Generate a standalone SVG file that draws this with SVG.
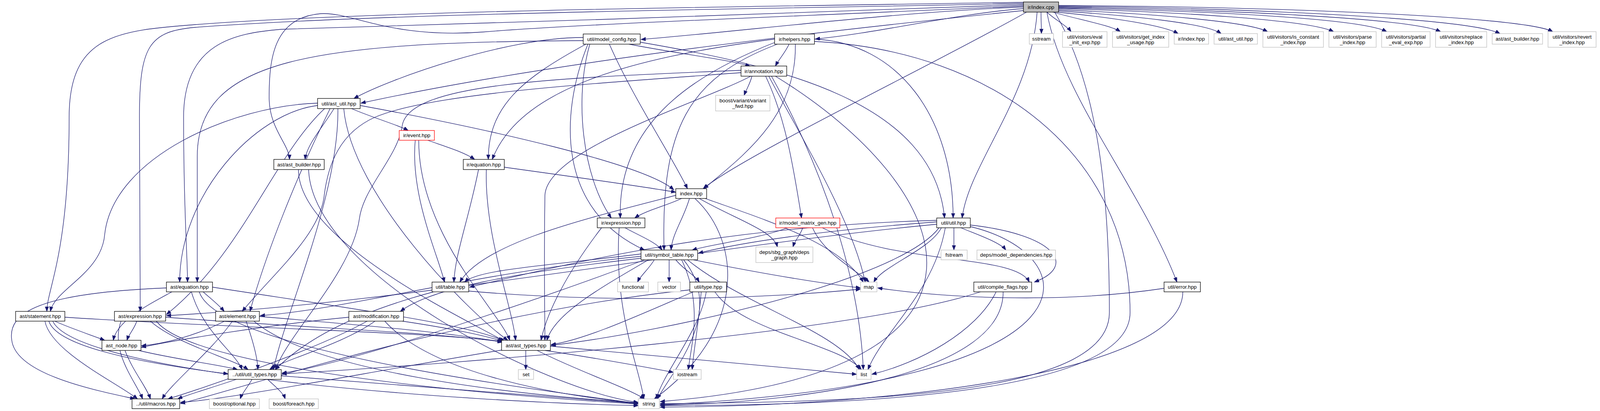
<svg xmlns="http://www.w3.org/2000/svg" width="4191" height="1052" viewBox="0 0 4191 1052">
<defs>
<style>
.n rect{fill:#ffffff;stroke:#000000;stroke-width:1.3}
.g rect{stroke:#bfbfbf}
.r rect{stroke:#ff0000}
.root rect{fill:#bfbfbf}
text{font-family:"Liberation Sans",Arial,Helvetica,sans-serif;font-size:13.3px;text-anchor:middle;fill:#000000}
#edges path{fill:none;stroke:#191970;stroke-width:1.3;marker-end:url(#a)}
</style>
<marker id="a" markerUnits="userSpaceOnUse" markerWidth="13" markerHeight="10" refX="12" refY="4.5" orient="auto" viewBox="0 0 13 10"><path d="M0,0 L12,4.5 L0,9 Z" fill="#191970" stroke="#191970" stroke-width="1"/></marker>
</defs>
<rect x="0" y="0" width="4191" height="1052" fill="#ffffff"/>
<g id="edges">
<path d="M2665,31 C2665,50 2666,70 2666,86"/>
<path d="M2680,31 C2700,50 2730,65 2742,81"/>
<path d="M2695,31 C2760,50 2845,65 2868,81"/>
<path d="M2705,31 C2850,45 2980,65 3016,86"/>
<path d="M2710,28 C2900,40 3090,60 3126,86"/>
<path d="M2710,25 C2950,35 3195,55 3245,81"/>
<path d="M2710,22 C3000,30 3350,50 3414,81"/>
<path d="M2710,20 C3050,27 3480,45 3550,81"/>
<path d="M2710,18 C3100,24 3610,45 3688,81"/>
<path d="M2710,16 C3150,20 3760,45 3840,86"/>
<path d="M2710,14 C3200,16 3900,40 3975,81"/>
<path d="M2620,18 C2300,30 1900,80 1641,101"/>
<path d="M2620,22 C2450,35 2250,84 2087,100"/>
<path d="M2620,27 C2200,70 1450,150 924,264"/>
<path d="M2628,31 C2400,160 1900,400 1800,483"/>
<path d="M2655,31 C2640,250 2480,420 2463,558"/>
<path d="M2680,31 C2720,250 2920,480 3013,722"/>
<path d="M2620,15 C2100,40 1500,60 1235,82 C1000,100 900,30 821,35 C700,45 689,150 689,250 C689,330 741,370 741,408"/>
<path d="M2620,12 C2100,30 1300,60 720,75 C600,85 470,110 470,300 C470,550 480,650 480,722"/>
<path d="M2620,6 C2000,16 1000,25 500,63 C300,78 177,90 177,300 C177,650 120,740 120,797"/>
<path d="M2620,9 C2000,22 1000,32 500,70 C380,80 357,120 357,300 C357,650 359,740 359,797"/>
<path d="M2700,31 C2800,200 2840,450 2840,800 C2840,1000 2300,1030 1690,1033"/>
<path d="M1493,104 C800,108 505,150 505,400 C505,600 505,680 505,722"/>
<path d="M1493,96 C1300,95 1000,200 906,252"/>
<path d="M1500,113 C1340,200 1250,270 1250,408"/>
<path d="M1510,113 C1470,250 1490,450 1565,558"/>
<path d="M1505,113 C1430,300 1430,540 1650,640"/>
<path d="M1560,113 C1620,250 1720,400 1760,483"/>
<path d="M1610,113 C1750,140 1850,150 1920,169"/>
<path d="M1639,108 C2000,170 2390,260 2418,558"/>
<path d="M1983,100 C1600,150 1330,230 1260,408"/>
<path d="M1985,108 C1750,200 1581,330 1588,558"/>
<path d="M1990,113 C1760,200 1692,330 1700,640"/>
<path d="M2020,113 C2010,135 1995,150 1985,169"/>
<path d="M2036,113 C2040,300 1900,400 1802,483"/>
<path d="M2085,100 C2300,110 2440,300 2440,558"/>
<path d="M2085,106 C2550,130 2893,400 2893,800 C2893,1000 2250,1038 1690,1038"/>
<path d="M1897,180 C1400,200 1050,215 1030,320 C1020,400 930,480 920,560 C900,700 740,850 705,946"/>
<path d="M1897,186 C1500,215 1100,240 960,300 C870,340 840,420 830,500 C820,600 700,700 620,797"/>
<path d="M1925,195 C1920,215 1910,230 1905,244"/>
<path d="M1922,195 C1800,260 1400,380 1395,500 C1392,700 1395,800 1395,871"/>
<path d="M1960,195 C2010,300 2030,420 2052,558"/>
<path d="M1968,195 C2050,350 2180,560 2215,722"/>
<path d="M1975,195 C2100,420 2200,700 2210,946"/>
<path d="M1985,195 C2450,480 2650,950 1690,1028"/>
<path d="M813,264 C600,270 290,400 268,600 C260,700 140,740 129,797"/>
<path d="M813,270 C650,290 460,500 460,722"/>
<path d="M831,278 C700,400 620,650 426,805"/>
<path d="M845,278 C760,450 680,650 640,797"/>
<path d="M855,278 C830,320 785,370 781,408"/>
<path d="M865,278 C868,500 730,800 700,946"/>
<path d="M880,278 C900,500 1200,800 1300,871"/>
<path d="M900,278 C950,300 1020,320 1045,334"/>
<path d="M922,270 C1250,330 1650,420 1725,486"/>
<path d="M1095,359 C1140,375 1190,390 1215,408"/>
<path d="M1063,359 C1050,500 1120,650 1138,722"/>
<path d="M1072,359 C1071,600 1280,800 1305,871"/>
<path d="M1291,428 C1450,450 1650,478 1730,492"/>
<path d="M1225,434 C1200,560 1165,650 1162,722"/>
<path d="M1245,434 C1240,600 1310,780 1320,871"/>
<path d="M764,434 C764,620 1200,820 1292,874"/>
<path d="M790,434 C800,700 1400,1000 1634,1030"/>
<path d="M1745,508 C1710,525 1650,540 1625,558"/>
<path d="M1765,508 C1750,560 1720,600 1718,640"/>
<path d="M1730,500 C1500,560 1240,620 1177,722"/>
<path d="M1790,508 C1880,560 1980,590 1990,632"/>
<path d="M1805,508 C1950,560 2150,620 2210,722"/>
<path d="M1779,508 C1900,620 1910,850 1675,1021"/>
<path d="M1600,583 C1630,600 1680,620 1695,640"/>
<path d="M1540,583 C1450,700 1400,800 1385,871"/>
<path d="M1585,583 C1570,800 1640,950 1648,1021"/>
<path d="M2015,583 C1950,610 1820,625 1772,640"/>
<path d="M2055,583 C2050,600 2035,615 2030,632"/>
<path d="M2080,583 C2110,650 2190,690 2225,722"/>
<path d="M2105,583 C2300,680 2600,650 2635,722"/>
<path d="M2398,568 C2100,590 1900,620 1788,648"/>
<path d="M2398,564 C1800,580 1400,690 1202,735"/>
<path d="M2398,574 C1800,630 1100,770 426,808"/>
<path d="M2442,583 C2442,600 2442,620 2442,640"/>
<path d="M2460,583 C2500,600 2560,620 2575,640"/>
<path d="M2410,583 C2380,640 2260,680 2237,722"/>
<path d="M2420,583 C2390,750 2260,850 2222,946"/>
<path d="M2484,576 C2700,600 2760,680 2648,722"/>
<path d="M2404,583 C2300,720 1700,850 1411,884"/>
<path d="M2484,580 C2780,650 2860,980 1690,1036"/>
<path d="M1675,665 C1660,690 1640,705 1632,722"/>
<path d="M1713,665 C1713,690 1713,705 1713,722"/>
<path d="M1730,665 C1750,690 1780,705 1790,722"/>
<path d="M1641,650 C1400,680 1220,690 1190,722"/>
<path d="M1641,656 C1200,700 900,790 666,808"/>
<path d="M1641,661 C1300,700 1100,740 1025,797"/>
<path d="M1775,665 C1950,700 2100,725 2203,737"/>
<path d="M1760,665 C1900,780 2150,850 2200,946"/>
<path d="M1745,665 C1800,780 1770,880 1762,946"/>
<path d="M1750,665 C1860,800 1720,950 1683,1021"/>
<path d="M1660,665 C1550,730 1420,800 1400,871"/>
<path d="M1650,665 C1400,760 900,930 722,955"/>
<path d="M1766,742 C1200,800 600,1000 462,1033"/>
<path d="M1775,747 C1650,800 1500,870 1411,882"/>
<path d="M1795,747 C1790,820 1775,900 1772,946"/>
<path d="M1808,747 C1790,850 1700,950 1680,1021"/>
<path d="M1830,747 C1900,850 2150,880 2205,946"/>
<path d="M1200,745 C1600,780 2000,760 2203,740"/>
<path d="M1110,747 C950,790 800,850 705,946"/>
<path d="M520,747 C540,765 560,780 574,797"/>
<path d="M544,735 C900,790 1200,830 1288,872"/>
<path d="M440,747 C380,780 300,820 290,871"/>
<path d="M426,737 C100,750 20,800 30,870 C40,960 250,1000 345,1021"/>
<path d="M490,747 C520,850 600,900 620,946"/>
<path d="M510,747 C560,900 1400,1000 1634,1033"/>
<path d="M140,822 C180,840 240,860 268,871"/>
<path d="M166,812 C600,840 1100,850 1285,874"/>
<path d="M115,822 C130,900 300,980 352,1021"/>
<path d="M125,822 C150,900 450,940 584,957"/>
<path d="M135,822 C200,960 1200,1030 1634,1038"/>
<path d="M350,822 C345,840 330,855 325,871"/>
<path d="M424,812 C800,840 1100,850 1286,875"/>
<path d="M310,822 C280,900 350,980 365,1021"/>
<path d="M385,822 C450,880 600,920 635,946"/>
<path d="M400,822 C500,950 1300,1015 1634,1034"/>
<path d="M575,822 C500,860 420,880 362,885"/>
<path d="M664,810 C900,830 1150,850 1287,876"/>
<path d="M595,822 C540,900 440,980 415,1021"/>
<path d="M630,822 C650,880 660,920 660,946"/>
<path d="M650,822 C800,950 1300,1010 1634,1031"/>
<path d="M893,812 C700,830 450,870 362,889"/>
<path d="M1030,822 C1150,840 1250,860 1289,875"/>
<path d="M940,822 C800,900 500,1000 430,1021"/>
<path d="M960,822 C880,880 730,920 690,946"/>
<path d="M985,822 C1100,950 1400,1010 1634,1032"/>
<path d="M355,897 C450,920 570,935 608,946"/>
<path d="M320,897 C340,950 375,990 385,1021"/>
<path d="M1346,897 C1346,915 1346,930 1346,946"/>
<path d="M1395,897 C1550,920 1680,945 1724,953"/>
<path d="M1409,886 C1800,920 2100,950 2193,958"/>
<path d="M1375,897 C1480,950 1600,990 1650,1021"/>
<path d="M1290,895 C900,960 600,1020 462,1030"/>
<path d="M605,971 C550,990 480,1010 455,1021"/>
<path d="M645,971 C635,990 620,1005 615,1021"/>
<path d="M685,971 C705,990 725,1005 730,1021"/>
<path d="M720,962 C1100,990 1450,1020 1634,1033"/>
<path d="M2510,747 C2200,850 1200,930 722,957"/>
<path d="M2550,747 C2500,850 2350,930 2232,958"/>
<path d="M2568,747 C2570,950 2100,1030 1690,1037"/>
<path d="M2980,738 C2700,780 2400,760 2247,737"/>
<path d="M3028,747 C3028,950 2300,1040 1690,1042"/>
</g>
<g id="n_index_cpp" class="n root"><rect x="2620" y="5" width="90" height="26"/><text x="2665" y="22.5">ir/index.cpp</text></g>
<g id="n_sstream" class="n g"><rect x="2635" y="86" width="62" height="27"/><text x="2666" y="104">sstream</text></g>
<g id="n_eval_init_exp" class="n g"><rect x="2720" y="81" width="114" height="40"/><text x="2777" y="98.5">util/visitors/eval</text><text x="2777" y="112.5">_init_exp.hpp</text></g>
<g id="n_get_index_usage" class="n g"><rect x="2848" y="81" width="144" height="40"/><text x="2920" y="98.5">util/visitors/get_index</text><text x="2920" y="112.5">_usage.hpp</text></g>
<g id="n_ir_index_hpp_g" class="n g"><rect x="3006" y="86" width="88" height="27"/><text x="3050" y="104">ir/index.hpp</text></g>
<g id="n_ast_util_g" class="n g"><rect x="3108" y="86" width="111" height="27"/><text x="3163.5" y="104">util/ast_util.hpp</text></g>
<g id="n_is_constant_index" class="n g"><rect x="3233" y="81" width="155" height="40"/><text x="3310.5" y="98.5">util/visitors/is_constant</text><text x="3310.5" y="112.5">_index.hpp</text></g>
<g id="n_parse_index" class="n g"><rect x="3402" y="81" width="121" height="40"/><text x="3462.5" y="98.5">util/visitors/parse</text><text x="3462.5" y="112.5">_index.hpp</text></g>
<g id="n_partial_eval_exp" class="n g"><rect x="3537" y="81" width="124" height="40"/><text x="3599" y="98.5">util/visitors/partial</text><text x="3599" y="112.5">_eval_exp.hpp</text></g>
<g id="n_replace_index" class="n g"><rect x="3675" y="81" width="131" height="40"/><text x="3740.5" y="98.5">util/visitors/replace</text><text x="3740.5" y="112.5">_index.hpp</text></g>
<g id="n_ast_builder_g" class="n g"><rect x="3820" y="86" width="129" height="27"/><text x="3884.5" y="104">ast/ast_builder.hpp</text></g>
<g id="n_revert_index" class="n g"><rect x="3963" y="81" width="123" height="40"/><text x="4024.5" y="98.5">util/visitors/revert</text><text x="4024.5" y="112.5">_index.hpp</text></g>
<g id="n_model_config" class="n"><rect x="1493" y="87" width="146" height="26"/><text x="1566" y="104.5">util/model_config.hpp</text></g>
<g id="n_helpers" class="n"><rect x="1983" y="87" width="102" height="26"/><text x="2034" y="104.5">ir/helpers.hpp</text></g>
<g id="n_annotation" class="n"><rect x="1897" y="169" width="117" height="26"/><text x="1955.5" y="186.5">ir/annotation.hpp</text></g>
<g id="n_ast_util" class="n"><rect x="813" y="252" width="109" height="26"/><text x="867.5" y="269.5">util/ast_util.hpp</text></g>
<g id="n_variant_fwd" class="n g"><rect x="1832" y="244" width="139" height="40"/><text x="1901.5" y="261.5">boost/variant/variant</text><text x="1901.5" y="275.5">_fwd.hpp</text></g>
<g id="n_event" class="n r"><rect x="1022" y="334" width="90" height="25"/><text x="1067" y="351">ir/event.hpp</text></g>
<g id="n_ast_builder" class="n"><rect x="701" y="408" width="129" height="26"/><text x="765.5" y="425.5">ast/ast_builder.hpp</text></g>
<g id="n_ir_equation" class="n"><rect x="1186" y="408" width="105" height="26"/><text x="1238.5" y="425.5">ir/equation.hpp</text></g>
<g id="n_index_hpp" class="n"><rect x="1730" y="483" width="79" height="25"/><text x="1769.5" y="500">index.hpp</text></g>
<g id="n_ir_expression" class="n"><rect x="1529" y="558" width="122" height="25"/><text x="1590" y="575">ir/expression.hpp</text></g>
<g id="n_model_matrix_gen" class="n r"><rect x="1986" y="558" width="164" height="25"/><text x="2068" y="575">ir/model_matrix_gen.hpp</text></g>
<g id="n_util_hpp" class="n"><rect x="2398" y="558" width="86" height="25"/><text x="2441" y="575">util/util.hpp</text></g>
<g id="n_symbol_table" class="n"><rect x="1641" y="640" width="145" height="25"/><text x="1713.5" y="657">util/symbol_table.hpp</text></g>
<g id="n_deps_graph" class="n g"><rect x="1935" y="632" width="146" height="40"/><text x="2008" y="649.5">deps/sbg_graph/deps</text><text x="2008" y="663.5">_graph.hpp</text></g>
<g id="n_fstream" class="n g"><rect x="2409" y="640" width="67" height="25"/><text x="2442.5" y="657">fstream</text></g>
<g id="n_model_dependencies" class="n g"><rect x="2501" y="640" width="201" height="25"/><text x="2601.5" y="657">deps/model_dependencies.hpp</text></g>
<g id="n_ast_equation" class="n"><rect x="426" y="722" width="118" height="25"/><text x="485" y="739">ast/equation.hpp</text></g>
<g id="n_table" class="n"><rect x="1106" y="722" width="94" height="25"/><text x="1153" y="739">util/table.hpp</text></g>
<g id="n_functional" class="n g"><rect x="1581" y="722" width="79" height="25"/><text x="1620.5" y="739">functional</text></g>
<g id="n_vector" class="n g"><rect x="1684" y="722" width="58" height="25"/><text x="1713" y="739">vector</text></g>
<g id="n_type" class="n"><rect x="1766" y="722" width="94" height="25"/><text x="1813" y="739">util/type.hpp</text></g>
<g id="n_map" class="n g"><rect x="2203" y="722" width="42" height="25"/><text x="2224" y="739">map</text></g>
<g id="n_compile_flags" class="n"><rect x="2493" y="722" width="148" height="25"/><text x="2567" y="739">util/compile_flags.hpp</text></g>
<g id="n_error" class="n"><rect x="2980" y="722" width="93" height="25"/><text x="3026.5" y="739">util/error.hpp</text></g>
<g id="n_statement" class="n"><rect x="40" y="797" width="126" height="25"/><text x="103" y="814">ast/statement.hpp</text></g>
<g id="n_ast_expression" class="n"><rect x="293" y="797" width="131" height="25"/><text x="358.5" y="814">ast/expression.hpp</text></g>
<g id="n_element" class="n"><rect x="552" y="797" width="112" height="25"/><text x="608" y="814">ast/element.hpp</text></g>
<g id="n_modification" class="n"><rect x="893" y="797" width="140" height="25"/><text x="963" y="814">ast/modification.hpp</text></g>
<g id="n_ast_node" class="n"><rect x="261" y="871" width="100" height="26"/><text x="311" y="888.5">ast_node.hpp</text></g>
<g id="n_ast_types" class="n"><rect x="1284" y="871" width="125" height="26"/><text x="1346.5" y="888.5">ast/ast_types.hpp</text></g>
<g id="n_util_types" class="n"><rect x="584" y="946" width="136" height="25"/><text x="652" y="963">../util/util_types.hpp</text></g>
<g id="n_set" class="n g"><rect x="1327" y="946" width="39" height="25"/><text x="1346.5" y="963">set</text></g>
<g id="n_iostream" class="n g"><rect x="1724" y="946" width="71" height="25"/><text x="1759.5" y="963">iostream</text></g>
<g id="n_list" class="n g"><rect x="2193" y="946" width="37" height="25"/><text x="2211.5" y="963">list</text></g>
<g id="n_macros" class="n"><rect x="338" y="1021" width="122" height="25"/><text x="399" y="1038">../util/macros.hpp</text></g>
<g id="n_optional" class="n g"><rect x="536" y="1021" width="128" height="25"/><text x="600" y="1038">boost/optional.hpp</text></g>
<g id="n_foreach" class="n g"><rect x="689" y="1021" width="126" height="25"/><text x="752" y="1038">boost/foreach.hpp</text></g>
<g id="n_string" class="n g"><rect x="1634" y="1021" width="54" height="25"/><text x="1661" y="1038">string</text></g>
</svg>
